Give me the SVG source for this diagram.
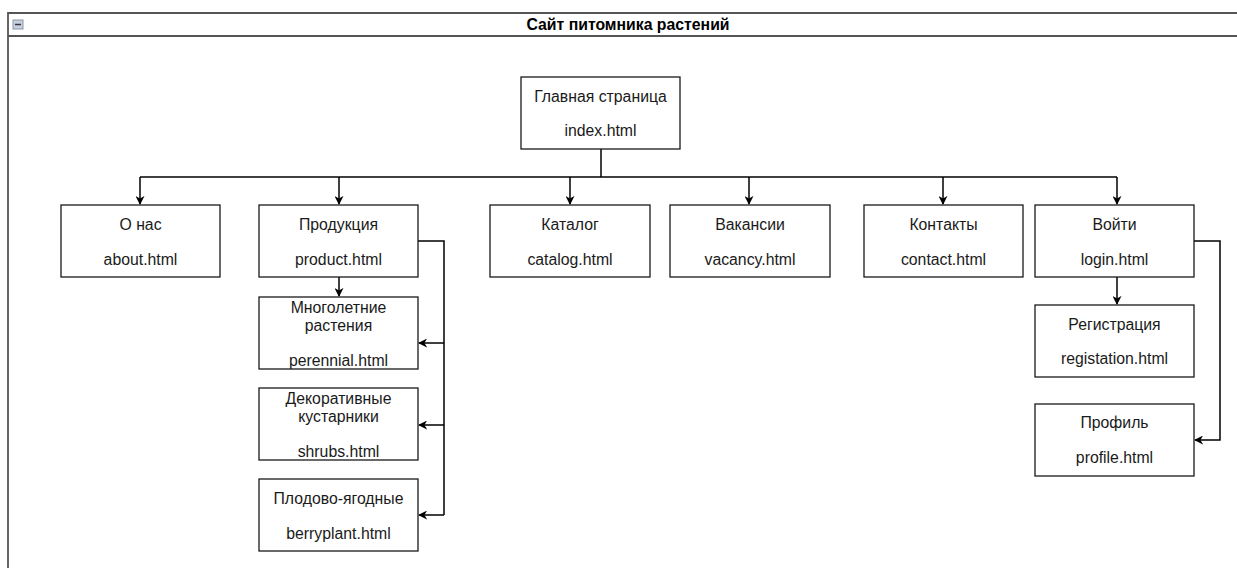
<svg xmlns="http://www.w3.org/2000/svg" width="1237" height="568" viewBox="0 0 1237 568">
<defs>
<style>
.box{fill:#fff;stroke:#1a1a1a;stroke-width:1.3}
.t{font-family:"Liberation Sans",Arial,sans-serif;font-size:15.8px;fill:#1a1a1a;text-anchor:middle}
.c{fill:none;stroke:#000;stroke-width:1.5}
.frame{fill:none;stroke:#555;stroke-width:1.8}
</style>
<marker id="a" viewBox="0 0 10 10" refX="9" refY="5" markerWidth="9" markerHeight="9" markerUnits="userSpaceOnUse" orient="auto">
<path d="M0,0 L10,5 L0,10 L3,5 Z" fill="#000"/>
</marker>
</defs>
<rect width="1237" height="568" fill="#fff"/>
<g id="frame">
<path class="frame" d="M1237,13 H8 V568"/>
<path class="frame" d="M8,36 H1237"/>
<rect x="13" y="20" width="10" height="9" fill="#c8d0dc" stroke="#8a96a8" stroke-width="1"/>
<path d="M15,24.5 H21" stroke="#334" stroke-width="1.5"/>
<text x="628" y="30" style="font-family:'Liberation Sans',Arial,sans-serif;font-size:15.8px;font-weight:bold;fill:#000" text-anchor="middle">Сайт питомника растений</text>
</g>
<g id="connectors">
<path class="c" d="M601,149 V177"/>
<path class="c" d="M140,177 H1117"/>
<path class="c" d="M140,177 V204" marker-end="url(#a)"/>
<path class="c" d="M339,177 V204" marker-end="url(#a)"/>
<path class="c" d="M570,177 V204" marker-end="url(#a)"/>
<path class="c" d="M749,177 V204" marker-end="url(#a)"/>
<path class="c" d="M943,177 V204" marker-end="url(#a)"/>
<path class="c" d="M1117,177 V204" marker-end="url(#a)"/>
<path class="c" d="M339,277 V296" marker-end="url(#a)"/>
<path class="c" d="M418,241 H444 V515"/>
<path class="c" d="M444,343 H419" marker-end="url(#a)"/>
<path class="c" d="M444,425 H419" marker-end="url(#a)"/>
<path class="c" d="M444,515 H419" marker-end="url(#a)"/>
<path class="c" d="M1117,277 V304" marker-end="url(#a)"/>
<path class="c" d="M1194,241 H1220 V440 H1195" marker-end="url(#a)"/>
</g>
<g id="n-main"><rect class="box" x="521" y="77" width="159" height="72"/><text class="t" x="600.5" y="102">Главная страница</text><text class="t" x="600.5" y="136">index.html</text></g>
<g id="n-about"><rect class="box" x="61" y="205" width="159" height="72"/><text class="t" x="140.5" y="230">О нас</text><text class="t" x="140.5" y="265">about.html</text></g>
<g id="n-product"><rect class="box" x="259" y="205" width="159" height="72"/><text class="t" x="338.5" y="230">Продукция</text><text class="t" x="338.5" y="265">product.html</text></g>
<g id="n-catalog"><rect class="box" x="490" y="205" width="160" height="72"/><text class="t" x="570" y="230">Каталог</text><text class="t" x="570" y="265">catalog.html</text></g>
<g id="n-vacancy"><rect class="box" x="670" y="205" width="160" height="72"/><text class="t" x="750" y="230">Вакансии</text><text class="t" x="750" y="265">vacancy.html</text></g>
<g id="n-contact"><rect class="box" x="864" y="205" width="159" height="72"/><text class="t" x="943.5" y="230">Контакты</text><text class="t" x="943.5" y="265">contact.html</text></g>
<g id="n-login"><rect class="box" x="1035" y="205" width="159" height="72"/><text class="t" x="1114.5" y="230">Войти</text><text class="t" x="1114.5" y="265">login.html</text></g>
<g id="n-perennial"><rect class="box" x="259" y="297" width="159" height="72"/><text class="t" x="338.5" y="313">Многолетние</text><text class="t" x="338.5" y="331">растения</text><text class="t" x="338.5" y="366">perennial.html</text></g>
<g id="n-shrubs"><rect class="box" x="259" y="388" width="159" height="72"/><text class="t" x="338.5" y="404">Декоративные</text><text class="t" x="338.5" y="422">кустарники</text><text class="t" x="338.5" y="457">shrubs.html</text></g>
<g id="n-berry"><rect class="box" x="259" y="479" width="159" height="72"/><text class="t" x="338.5" y="504">Плодово-ягодные</text><text class="t" x="338.5" y="539">berryplant.html</text></g>
<g id="n-reg"><rect class="box" x="1035" y="305" width="159" height="72"/><text class="t" x="1114.5" y="330">Регистрация</text><text class="t" x="1114.5" y="364">registation.html</text></g>
<g id="n-profile"><rect class="box" x="1035" y="404" width="159" height="72"/><text class="t" x="1114.5" y="428">Профиль</text><text class="t" x="1114.5" y="463">profile.html</text></g>
</svg>
